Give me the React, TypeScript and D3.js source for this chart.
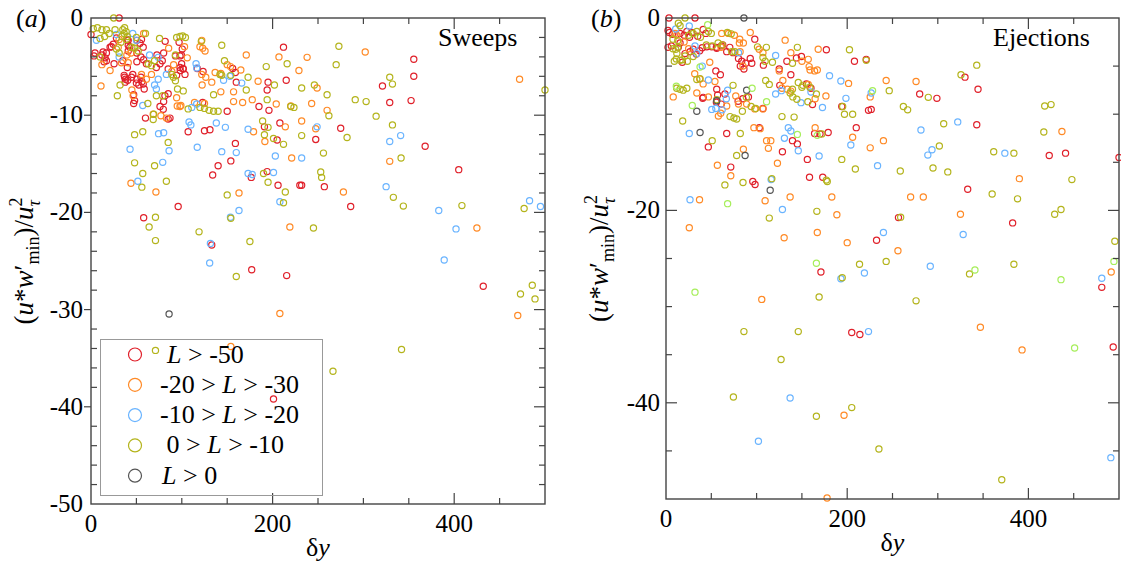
import React from 'react';
import * as d3 from 'd3';

type P = [number, number];

// ---------- Panel (a) Sweeps ----------
const sweepsRed: P[] = [
  [31,0],[0,-1.7],[41,-2.3],[41,-2.8],[21,-3.0],[24.5,-2.7],[22.5,-2.95],[28,-2.05],[4.4,-3.6],[3.3,-3.9],[12,-3.8],[15.5,-4.1],[14.4,-4.5],[17,-3.6],[13.3,-3.5],[17,-4.4],[40,-2.2],[42.7,-3.0],[41,-3.4],[50.5,-2.3],[54,-2.6],[55.6,-2.2],[57.5,-3.0],[50.5,-3.6],[55,-4.0],[58,-4.3],[61,-4.7],[50.5,-4.5],[35,-4.4],[25.4,-4.7],[40,-5.1],[36.5,-5.9],[38,-6.3],[46,-5.8],[44.6,-6.1],[37,-6.1],[37.6,-6.6],[40.5,-6.4],[47,-7.9],[47,-8.8],[48,-8.5],[50.5,-6.3],[56,-6.55],[58.6,-7.3],[50,-6.7],[55,-6.1],[57.5,-6.8],[52.7,-6.9],[72.6,-3.8],[72,-5.1],[76,-4.7],[78.5,-4.4],[81.7,-2.4],[80,-3.6],[81.4,-8.0],[85,-7.8],[79.6,-9.4],[76,-9.1],[80,-8.6],[85,-5.25],[94.3,-5.9],[98,-5.1],[101.6,-5.25],[103.5,-5.8],[93,-3.9],[98,-3.9],[99.8,-4.7],[97,-2.5],[100.5,-3.2],[99.5,-3.8],[101.3,-5.2],[98.3,-5.4],[87,-10.3],[85,-10.4],[60,-10.3],[117,-5.2],[123.4,-5.5],[123,-8.7],[156,-5.2],[159,-5.6],[160,-6.6],[150,-9.6],[185,-9.1],[196,-9.5],[195,-6.6],[194,-7.4],[215,-6.4],[212,-3.0],[107,-11.7],[125,-11.6],[131,-11.5],[134,-16.15],[140,-15.2],[154,-14.7],[159,-12.9],[176.5,-16.4],[191,-11.2],[194,-15.8],[205,-12.55],[206,-17.2],[208,-10.8],[230,-17.2],[232,-17.2],[247.5,-12.5],[257,-17.35],[275,-11.35],[321,-7.0],[329,-8.7],[352.5,-8.5],[355.5,-4.25],[355.5,-6.0],[368,-13.2],[405,-15.6],[58,-20.55],[96,-19.4],[133,-23.35],[177,-25.9],[215.5,-26.5],[286,-19.4],[432,-27.6],[201,-39.2]
];
const sweepsOrange: P[] = [
  [58,-1.6],[31,-2.2],[30,-3.0],[39.5,-3.8],[44,-3.6],[12,-4.8],[21,-5.4],[11,-7.0],[45,-7.4],[46.4,-8.0],[33.5,-4.6],[41,-4.6],[55.6,-5.8],[61,-6.3],[66.6,-5.8],[68.5,-9.9],[77,-10.05],[83,-10.3],[85.5,-3.1],[91,-4.8],[89,-5.5],[106,-4.1],[103,-2.95],[123,-3.1],[120,-2.95],[125.6,-3.4],[122,-2.3],[122.4,-6.9],[122,-5.8],[126.4,-6.1],[136.7,-5.6],[133,-6.6],[143,-5.7],[150,-4.8],[153.6,-5.0],[165,-5.35],[171,-3.8],[184,-6.5],[143,-7.6],[157,-7.6],[167,-8.7],[177.6,-8.4],[157,-8.6],[204,-8.85],[207,-4.0],[229,-5.4],[238,-4.05],[302,-3.5],[249,-7.2],[220,-9.05],[243,-8.8],[260,-9.5],[232,-10.6],[247.5,-11.4],[214,-11.2],[179,-11.7],[191.5,-12.7],[221,-14.4],[329,-14.75],[278,-17.9],[163,-18.0],[114,-8.7],[99,-9.0],[95,-9.05],[98,-9.1],[94.3,-8.2],[125,-8.8],[44,-17.0],[71.5,-17.9],[472,-6.3],[425,-21.6],[219,-21.5],[470,-30.6],[208,-30.4],[154,-33.8]
];
const sweepsBlue: P[] = [
  [6,-2.3],[28,-1.7],[46,-1.6],[50,-2.3],[31,-4.0],[64.5,-3.8],[74,-4.05],[57,-9.0],[70,-6.9],[72,-7.3],[74,-6.3],[83,-5.8],[115.7,-4.7],[116.4,-5.15],[111,-9.2],[116.4,-8.85],[108,-10.7],[146,-6.4],[153,-6.0],[166,-6.7],[110,-11.0],[117,-13.3],[138,-10.8],[148,-11.25],[144,-13.75],[160,-13.85],[173,-11.45],[173,-16.0],[177.6,-16.1],[201,-15.9],[203,-14.2],[43,-13.5],[51.6,-16.8],[79,-14.85],[86,-13.65],[74.4,-11.9],[80,-11.8],[249,-11.2],[232,-14.4],[341,-12.1],[329,-12.7],[325,-17.35],[483,-18.8],[131.5,-23.2],[130.7,-25.2],[153.6,-20.5],[163,-19.8],[208,-18.9],[383,-19.8],[402,-21.7],[389,-24.9],[495,-19.4]
];
const sweepsOlive: P[] = [
  [25,0],[2.5,-1.1],[7,-1.0],[12,-1.2],[17,-1.2],[20,-1.6],[26.5,-1.2],[10,-2.1],[15,-1.9],[35,-1.2],[36.5,-1.6],[38.7,-1.4],[34,-1.9],[40,-1.9],[37,-1.0],[39,-2.2],[33,-2.5],[50,-2.0],[60,-1.6],[10,-4.0],[28,-3.2],[31,-3.6],[48,-3.1],[52,-3.4],[45,-3.0],[63,-4.7],[66.6,-4.9],[70,-4.4],[29,-8.0],[32,-6.9],[62.6,-8.8],[72,-8.0],[79,-8.0],[69,-9.9],[68.5,-10.45],[75.5,-2.1],[98,-1.9],[101,-1.85],[94.3,-2.0],[104,-2.0],[93,-3.8],[89,-5.8],[90.8,-6.1],[93,-6.45],[95.3,-7.3],[101.6,-7.5],[121.5,-2.4],[144,-2.8],[147,-4.4],[142,-5.8],[144,-5.9],[154,-5.9],[173,-6.1],[135,-7.9],[171,-7.4],[194,-8.4],[193,-5.0],[202,-6.9],[216,-4.7],[120,-9.2],[125,-9.3],[130,-9.5],[135,-9.6],[140,-9.6],[107,-9.35],[220,-9.1],[223.5,-9.2],[273,-2.9],[270,-4.8],[246,-6.9],[232,-7.2],[260,-7.9],[329,-6.1],[332,-6.8],[291,-8.4],[303,-8.6],[314,-10.1],[262,-10.05],[500,-7.4],[48,-12.0],[57,-11.7],[48,-14.9],[57,-16.0],[56,-17.4],[70,-15.2],[83,-16.8],[85,-12.8],[189,-10.6],[195,-11.25],[191,-12.0],[201,-12.4],[212,-13.0],[190,-16.0],[195,-16.9],[214,-17.9],[150,-18.2],[232,-12.1],[282,-12.3],[332,-11.0],[256,-13.9],[341.5,-14.4],[253,-15.85],[254,-16.4],[333,-18.45],[71,-20.5],[64,-21.5],[71,-22.9],[119,-22.0],[154,-20.6],[175,-23.0],[160,-26.6],[212,-19.0],[245,-21.6],[344,-19.35],[408.5,-19.3],[477,-19.6],[486,-27.5],[473,-28.4],[489,-28.9],[342,-34.1],[266.5,-36.35],[71,-34.2]
];
const sweepsGray: P[] = [[86,-30.45]];

// ---------- Panel (b) Ejections ----------
const ejectRed: P[] = [
  [3.3,0],[32,0],[3.7,-1.5],[2.2,-1.3],[15.5,-1.6],[23,-1.4],[28.4,-1.5],[41,-1.2],[44,-1.6],[7,-1.7],[20,-1.8],[26,-2.0],[35,-1.9],[15.5,-2.6],[13.6,-3.05],[2.2,-3.05],[5.9,-2.9],[21,-3.7],[26.5,-3.5],[30,-3.25],[18,-4.6],[33.5,-3.75],[37.2,-3.4],[40,-3.1],[45,-3.0],[50.5,-3.0],[56,-3.15],[55.6,-3.05],[61,-2.9],[62.6,-2.8],[67,-3.5],[70.4,-3.05],[74,-3.6],[80,-4.2],[83.6,-4.5],[82,-5.0],[86,-5.3],[88,-4.7],[93,-4.2],[94.7,-4.7],[98,-2.2],[107.5,-4.9],[60,-5.9],[55,-5.5],[133.4,-4.5],[137.8,-5.9],[125,-5.3],[144,-4.15],[149.5,-4.0],[155,-6.85],[160,-7.3],[161.7,-9.0],[125.6,-7.0],[177,-3.3],[208,-4.5],[221,-4.3],[194,-9.2],[210,-11.4],[223.5,-9.6],[226.5,-9.5],[280,-7.9],[299,-8.35],[330,-6.15],[344.4,-7.4],[343,-11.1],[423,-14.3],[441,-14.05],[500,-14.5],[333,-17.8],[41,-8.25],[55.6,-8.75],[61,-8.95],[57,-8.0],[65,-7.9],[56,-7.4],[79.6,-8.65],[84.8,-8.4],[91,-8.2],[107,-9.4],[103,-11.4],[46.7,-13.4],[67,-12.0],[71.5,-15.5],[95.8,-17.0],[98.3,-17.3],[128.5,-13.9],[139.6,-12.75],[145,-13.1],[164,-12.0],[170,-12.05],[179,-11.9],[156,-14.7],[158.4,-16.55],[173,-16.55],[171,-26.4],[205,-32.7],[214,-32.9],[232.4,-23.1],[256.6,-20.75],[382.6,-21.3],[481,-28.0],[493.6,-34.2],[40.5,-8.35]
];
const ejectOrange: P[] = [
  [10,-1.6],[11.8,-1.8],[61.5,-1.6],[69,-1.6],[75.5,-1.8],[81.4,-2.2],[93,-1.5],[131.5,-2.3],[81,-2.6],[85.4,-2.6],[60.8,-3.05],[81.8,-3.5],[102.8,-3.25],[107,-3.6],[137.8,-3.6],[150,-4.5],[157,-4.3],[164,-5.5],[159,-5.4],[158,-5.05],[167,-5.4],[168,-3.25],[125,-5.5],[129,-6.5],[157,-6.9],[164.6,-8.4],[176.5,-8.1],[128,-7.3],[134,-7.4],[137.8,-7.6],[97,-11.4],[104,-11.5],[164.6,-11.4],[111,-12.75],[115.7,-12.75],[113,-13.55],[123,-15.1],[137,-18.6],[183,-18.6],[85.4,-13.65],[71.5,-16.4],[56.7,-15.3],[57.8,-10.2],[60.4,-9.9],[67,-9.15],[80,-8.95],[89,-8.95],[34,-7.8],[46.8,-8.2],[8,-8.2],[54,-6.6],[31.7,-5.8],[37.2,-6.35],[41,-6.85],[48.3,-4.6],[77,-8.1],[98,-9.45],[107,-9.45],[85,-5.0],[20,-2.5],[25,-3.2],[201.5,-6.8],[206,-12.4],[243,-6.5],[276,-6.6],[225.4,-8.2],[225.4,-13.5],[240,-12.75],[270,-18.6],[284,-18.6],[390,-16.7],[437,-11.8],[37,-18.9],[109.4,-19.0],[25.7,-21.8],[130.4,-22.85],[188.6,-20.45],[167,-22.3],[200,-23.35],[105.7,-29.25],[325,-20.4],[256,-24.2],[491.4,-26.4],[347,-32.15],[393,-34.5],[196.5,-41.3],[177.8,-49.9]
];
const ejectBlue: P[] = [
  [25.7,-0.83],[10.7,-1.15],[32,-2.9],[34,-3.7],[80,-3.6],[121,-3.9],[180.5,-6.0],[193,-6.55],[198.6,-8.35],[204,-13.2],[160,-7.7],[149,-8.8],[172.7,-9.3],[127.4,-7.55],[121,-7.9],[135,-11.4],[137.8,-11.75],[130.7,-12.5],[146,-13.8],[169,-14.35],[116,-16.8],[25.7,-12.0],[50.5,-9.5],[55,-9.4],[62,-9.55],[66.6,-8.4],[46.8,-6.45],[68,-7.5],[226.5,-7.8],[281.4,-11.65],[289,-14.25],[293.6,-13.7],[233.5,-15.35],[322,-10.8],[374,-14.05],[26.5,-18.9],[128.5,-19.9],[193,-27.1],[240,-22.3],[328,-22.5],[219,-26.5],[291.7,-25.8],[481,-27.05],[223.5,-32.6],[137,-39.5],[102,-44.0],[491,-45.7],[40,-5.0]
];
const ejectOlive: P[] = [
  [21,0],[13.6,-0.55],[15.5,-0.8],[7.7,-2.2],[13,-2.35],[10.7,-3.25],[7.7,-3.2],[13,-3.05],[12,-3.7],[9.2,-4.5],[15.5,-4.4],[21,-3.95],[23.6,-4.5],[11.4,-4.25],[18,-4.35],[30,-4.0],[25,-1.8],[30,-1.6],[34,-1.4],[38,-2.0],[46.8,-1.4],[50,-1.6],[44.5,-2.8],[51,-2.9],[57.5,-2.6],[62,-2.8],[67.7,-1.5],[72,-1.65],[72.6,-3.5],[76,-3.5],[101,-3.0],[107,-4.1],[109.4,-4.5],[110.8,-3.05],[117.5,-4.6],[139.6,-4.7],[145,-3.05],[202.5,-3.3],[146,-6.7],[150,-7.2],[151,-7.0],[158.8,-7.2],[166,-7.9],[139.6,-7.4],[137,-7.8],[140,-8.2],[144.4,-8.45],[156.6,-8.7],[128,-10.25],[141.4,-10.3],[172,-12.05],[177,-16.85],[178,-17.0],[116.8,-16.7],[78,-14.3],[85,-17.1],[65,-17.35],[51,-12.75],[82,-12.0],[18.4,-10.7],[70.7,-10.25],[75,-10.4],[78,-10.5],[84.3,-9.7],[94,-9.2],[99,-9.4],[56,-8.5],[11.8,-7.3],[15.5,-7.4],[19,-7.5],[23,-7.3],[34,-6.4],[37.6,-6.3],[74,-7.0],[88.7,-8.25],[114,-6.9],[110,-6.5],[195,-9.2],[206,-10.0],[197,-10.0],[194,-14.7],[209,-15.7],[246.4,-7.55],[289.5,-8.25],[262,-9.2],[266.7,-9.55],[306.5,-11.0],[325.6,-5.9],[343,-4.9],[418,-9.15],[425,-9.0],[417,-11.85],[361.7,-13.9],[384,-14.05],[448,-16.8],[360,-18.3],[388,-18.8],[258.6,-15.9],[294.7,-15.6],[311,-16.0],[301.7,-13.3],[114,-20.8],[166.5,-20.1],[194.5,-27.0],[213.6,-25.6],[169,-29.0],[86,-32.6],[146,-32.6],[127,-35.5],[74.4,-39.4],[259,-20.7],[429,-20.4],[436,-19.9],[495.4,-23.2],[243,-25.3],[335,-26.6],[384,-25.6],[276,-29.4],[166,-41.4],[205,-40.5],[235,-44.8],[370.6,-48.0],[221,-4.4]
];
const ejectGreen: P[] = [
  [46,-0.7],[11.4,-7.1],[29,-9.1],[37.6,-5.1],[95,-7.3],[111,-8.7],[145,-12.1],[167,-12.2],[68,-19.3],[166,-25.5],[32,-28.5],[228,-7.55],[341,-26.2],[436,-27.2],[494.4,-25.3],[451,-34.3]
];
const ejectGray: P[] = [[86,0],[34,-9.7],[37.6,-11.9],[87.3,-14.3],[115,-17.9],[89,-7.5],[56,-8.6]];

// ---------- Legend / ticks ----------
const legendLabels = ['L > -50', '-20 > L > -30', '-10 > L > -20', '\u00a00 > L > -10', 'L > 0'];
const xTickLabels = [0, 200, 400];
const xMinorTicks = [50, 100, 150, 250, 300, 350, 450];
const yMajorA = [0, -10, -20, -30, -40, -50];
const yMajorB = [0, -20, -40];

const COL = {
  red: '#e0202a',
  orange: '#ff8a26',
  blue: '#6ab4ff',
  olive: '#b4b41c',
  gray: '#555555',
  green: '#a6ee5a',
};

const FONT = 'Liberation Serif, Times New Roman, DejaVu Serif, serif';
const AXIS = '#444';

type Series = { pts: P[]; color: string };

interface PanelProps {
  xr: [number, number];
  yr: [number, number];
  series: Series[];
  yMajor: number[];
  yMinorStep: number;
  majorOut: boolean;
  labelGap: number;
  tag: string;
  title: string;
  titleX: number;
}

function YLabel({ x, y }: { x: number; y: number }) {
  return (
    <text transform={`translate(${x},${y}) rotate(-90)`} textAnchor="middle" fontSize={27} style={{ fontFamily: FONT }} fill="#000">
      (<tspan fontStyle="italic">u</tspan>*<tspan fontStyle="italic">w</tspan>′
      <tspan fontSize={18} dy={6}>min</tspan>
      <tspan dy={-6}>)/</tspan>
      <tspan fontStyle="italic">u</tspan>
      <tspan fontSize={18} dy={-11}>2</tspan>
      <tspan fontSize={18} fontStyle="italic" dx={-9} dy={18}>τ</tspan>
    </text>
  );
}

function Panel(p: PanelProps) {
  const x = d3.scaleLinear().domain([0, 500]).range(p.xr);
  const y = d3.scaleLinear().domain([0, -50]).range(p.yr);
  const [x0, x1] = p.xr;
  const [y0, y1] = p.yr;
  const yMinor = d3.range(0, -50.001, -p.yMinorStep).filter((v) => !p.yMajor.includes(v) && v !== -50);
  const major = 11;
  const minor = 6;
  const fmt = (v: number) => (v < 0 ? '-' + Math.abs(v) : String(v));
  return (
    <g>
      {p.series.map((s, i) => (
        <g key={i}>
          {s.pts.map((d, j) => (
            <circle key={j} cx={x(d[0])} cy={y(d[1])} r={3.1} fill="none" stroke={s.color} strokeWidth={1.2} />
          ))}
        </g>
      ))}
      <rect x={x0} y={y0} width={x1 - x0} height={y1 - y0} fill="none" stroke={AXIS} strokeWidth={1.4} />
      {xMinorTicks.map((v) => (
        <g key={'xm' + v} stroke={AXIS} strokeWidth={1.2}>
          <line x1={x(v)} x2={x(v)} y1={y1} y2={y1 - minor} />
          <line x1={x(v)} x2={x(v)} y1={y0} y2={y0 + minor} />
        </g>
      ))}
      {xTickLabels.map((v) => (
        <g key={'xM' + v}>
          {v !== 0 && (
            <g stroke={AXIS} strokeWidth={1.2}>
              <line x1={x(v)} x2={x(v)} y1={y1} y2={y1 - major} />
              <line x1={x(v)} x2={x(v)} y1={y0} y2={y0 + major} />
            </g>
          )}
          <text x={x(v)} y={y1 + 28} textAnchor="middle" fontSize={25} style={{ fontFamily: FONT }}>{fmt(v)}</text>
        </g>
      ))}
      {yMinor.map((v) => (
        <g key={'ym' + v} stroke={AXIS} strokeWidth={1.2}>
          <line x1={x0} x2={x0 + minor} y1={y(v)} y2={y(v)} />
          <line x1={x1} x2={x1 - minor} y1={y(v)} y2={y(v)} />
        </g>
      ))}
      {p.yMajor.map((v) => (
        <g key={'yM' + v}>
          {v !== 0 && v !== -50 && (
            <g stroke={AXIS} strokeWidth={1.2}>
              <line x1={p.majorOut ? x0 - 7 : x0} x2={p.majorOut ? x0 : x0 + major} y1={y(v)} y2={y(v)} />
              <line x1={x1} x2={x1 - major} y1={y(v)} y2={y(v)} />
            </g>
          )}
          <text x={x0 - p.labelGap} y={y(v) + 8} textAnchor="end" fontSize={25} style={{ fontFamily: FONT }}>{fmt(v)}</text>
        </g>
      ))}
      <text x={(x0 + x1) / 2} y={y1 + 52} textAnchor="middle" fontSize={26} style={{ fontFamily: FONT }}>
        δ<tspan fontStyle="italic">y</tspan>
      </text>
      <YLabel x={x0 - 58} y={(y0 + y1) / 2} />
      <text x={x0 - 75} y={27} fontSize={26} style={{ fontFamily: FONT }}>
        (<tspan fontStyle="italic">{p.tag}</tspan>)
      </text>
      <text x={p.titleX} y={46} fontSize={26} style={{ fontFamily: FONT }}>{p.title}</text>
    </g>
  );
}

function Legend() {
  const top = 354.5;
  const step = 30.3;
  const colors = [COL.red, COL.orange, COL.blue, COL.olive, COL.gray];
  return (
    <g>
      <rect x={100.5} y={339.5} width={222} height={156} fill="none" stroke="#999" strokeWidth={1} />
      {legendLabels.map((lab, i) => {
        const parts = lab.split('L');
        return (
          <g key={i}>
            <circle cx={135} cy={top + i * step} r={6.5} fill="none" stroke={colors[i]} strokeWidth={1.2} />
            <text x={i === 0 ? 167 : i === 4 ? 162 : 160} y={top + i * step + 8} fontSize={26} style={{ fontFamily: FONT, whiteSpace: 'pre' }}>
              {parts.map((s, k) => (
                <React.Fragment key={k}>
                  {k > 0 && <tspan fontStyle="italic">L</tspan>}
                  {s}
                </React.Fragment>
              ))}
            </text>
          </g>
        );
      })}
    </g>
  );
}

export default function App() {
  const seriesA: Series[] = [
    { pts: sweepsRed, color: COL.red },
    { pts: sweepsOrange, color: COL.orange },
    { pts: sweepsBlue, color: COL.blue },
    { pts: sweepsOlive, color: COL.olive },
    { pts: sweepsGray, color: COL.gray },
  ];
  const seriesB: Series[] = [
    { pts: ejectRed, color: COL.red },
    { pts: ejectOrange, color: COL.orange },
    { pts: ejectBlue, color: COL.blue },
    { pts: ejectOlive, color: COL.olive },
    { pts: ejectGray, color: COL.gray },
    { pts: ejectGreen, color: COL.green },
  ];
  return (
    <svg width={1121} height={563} style={{ position: 'absolute', left: 0, top: 0, background: '#fff', fontFamily: FONT }}>
      <Panel xr={[91, 545]} yr={[18, 504]} series={seriesA} yMajor={yMajorA} yMinorStep={2} majorOut={true} labelGap={8} tag="a" title="Sweeps" titleX={438} />
      <Panel xr={[666, 1119]} yr={[18, 499]} series={seriesB} yMajor={yMajorB} yMinorStep={5} majorOut={false} labelGap={6} tag="b" title="Ejections" titleX={993} />
      <Legend />
    </svg>
  );
}
